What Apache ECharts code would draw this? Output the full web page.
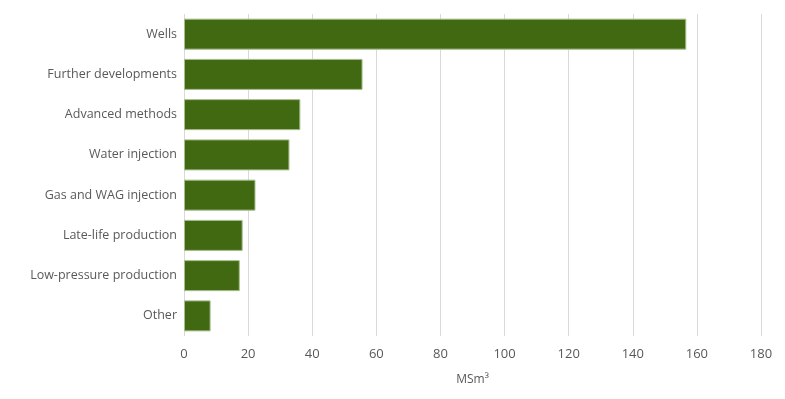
<!DOCTYPE html>
<html>
<head>
<meta charset="utf-8">
<script src="https://cdn.jsdelivr.net/npm/echarts@6/dist/echarts.min.js"></script>
<style>
  html, body { margin: 0; padding: 0; background: #fff; }
  #chart { width: 785px; height: 399px; }
</style>
</head>
<body>
<div id="chart"></div>
<script>
const categories = [
  'Wells',
  'Further developments',
  'Advanced methods',
  'Water injection',
  'Gas and WAG injection',
  'Late-life production',
  'Low-pressure production',
  'Other'
]
const values = [156.7, 55.7, 36.3, 32.9, 22.3, 18.3, 17.4, 8.3]
const axisName = 'MSm³'

const chart = echarts.init(document.getElementById('chart'))

const option = {
  animation: false,
  textStyle: { fontFamily: 'Open Sans' },
  grid: {
    left: 184,
    right: 24,
    top: 14,
    bottom: 63
  },
  xAxis: {
    type: 'value',
    min: 0,
    max: 180,
    interval: 20,
    name: axisName,
    nameLocation: 'middle',
    nameGap: 38,
    nameTextStyle: { color: '#595959', fontSize: 12 },
    axisLine: { show: false },
    axisTick: { show: false },
    axisLabel: { color: '#595959', fontSize: 13, margin: 12 },
    splitLine: { lineStyle: { color: '#d9d9d9', width: 1 } }
  },
  yAxis: {
    type: 'category',
    inverse: true,
    data: categories,
    axisLine: { show: false },
    axisTick: { show: false },
    axisLabel: { color: '#595959', fontSize: 12.5, margin: 7 }
  },
  series: [
    {
      type: 'bar',
      data: values,
      barWidth: 31,
      itemStyle: {
        color: '#416911',
        borderColor: '#a7bd8c',
        borderWidth: 1
      }
    }
  ]
}

chart.setOption(option)
</script>
</body>
</html>
